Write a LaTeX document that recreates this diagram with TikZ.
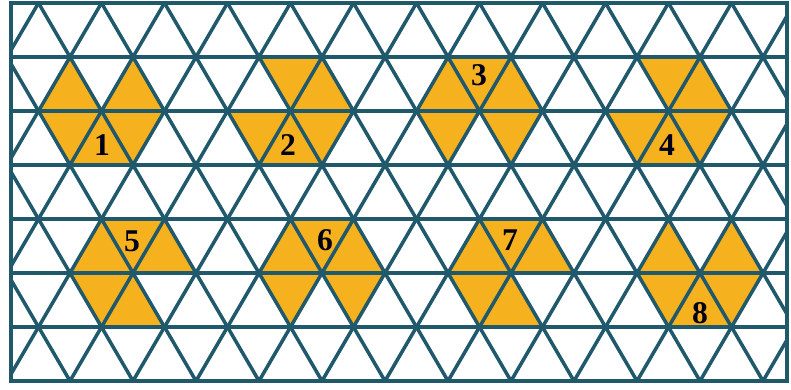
\documentclass[tikz,border=0pt]{standalone}
\usepackage{fontspec}
\setmainfont{Liberation Serif}
\definecolor{gridteal}{RGB}{32,88,108}
\definecolor{triorange}{RGB}{246,178,30}
\newcommand\uptri[2]{\fill[triorange] (#1,#2) -- ++(-31.5,54) -- ++(63,0) -- cycle;}
\newcommand\dntri[2]{\fill[triorange] (#1,#2) -- ++(63,0) -- ++(-31.5,54) -- cycle;}
\begin{document}
\begin{tikzpicture}[x=0.03cm,y=-0.03cm,
  gridline/.style={draw=gridteal,line width=3pt},
  borderline/.style={draw=gridteal,line width=3.4pt},
  lab/.style={font=\bfseries\fontsize{27}{27}\selectfont,text=black!90!blue,inner sep=0pt}]
\useasboundingbox (0,0) rectangle (791,389);
% figure 1
\uptri{70}{57}\uptri{133}{57}\dntri{38.5}{111}\uptri{101.5}{111}\dntri{101.5}{111}
% figure 2
\dntri{259}{57}\uptri{322}{57}\dntri{227.5}{111}\uptri{290.5}{111}\dntri{290.5}{111}
% figure 3
\dntri{448}{57}\uptri{448}{57}\uptri{511}{57}\dntri{416.5}{111}\dntri{479.5}{111}
% figure 4
\dntri{637}{57}\uptri{700}{57}\dntri{605.5}{111}\uptri{668.5}{111}\dntri{668.5}{111}
% figure 5
\dntri{101.5}{219}\uptri{101.5}{219}\uptri{164.5}{219}\dntri{70}{273}\uptri{133}{273}
% figure 6
\dntri{290.5}{219}\uptri{290.5}{219}\uptri{353.5}{219}\dntri{259}{273}\dntri{322}{273}
% figure 7
\dntri{479.5}{219}\uptri{479.5}{219}\uptri{542.5}{219}\dntri{448}{273}\uptri{511}{273}
% figure 8
\uptri{668.5}{219}\uptri{731.5}{219}\dntri{637}{273}\uptri{700}{273}\dntri{700}{273}
\begin{scope}
\clip (11,3) rectangle (787,381);
\foreach \i in {0,...,7}{
  \draw[gridline] (0,3+54*\i) -- (791,3+54*\i);
}
\foreach \k in {-8,...,20}{
  \draw[gridline,line cap=round] (38.5+63*\k,3) -- ++(220.5,378);
  \draw[gridline,line cap=round] (38.5+63*\k,3) -- ++(-220.5,378);
}
\end{scope}
\draw[borderline] (11,3) rectangle (787,381);
\node[lab] (n1) at (102,145) {1};
\node[lab] (n2) at (288,145) {2};
\node[lab] (n3) at (479,75) {3};
\node[lab] (n4) at (667,145) {4};
\node[lab] (n5) at (132,241) {5};
\node[lab] (n6) at (325,240) {6};
\node[lab] (n7) at (510,240) {7};
\node[lab] (n8) at (700,313) {8};
\end{tikzpicture}
\end{document}
